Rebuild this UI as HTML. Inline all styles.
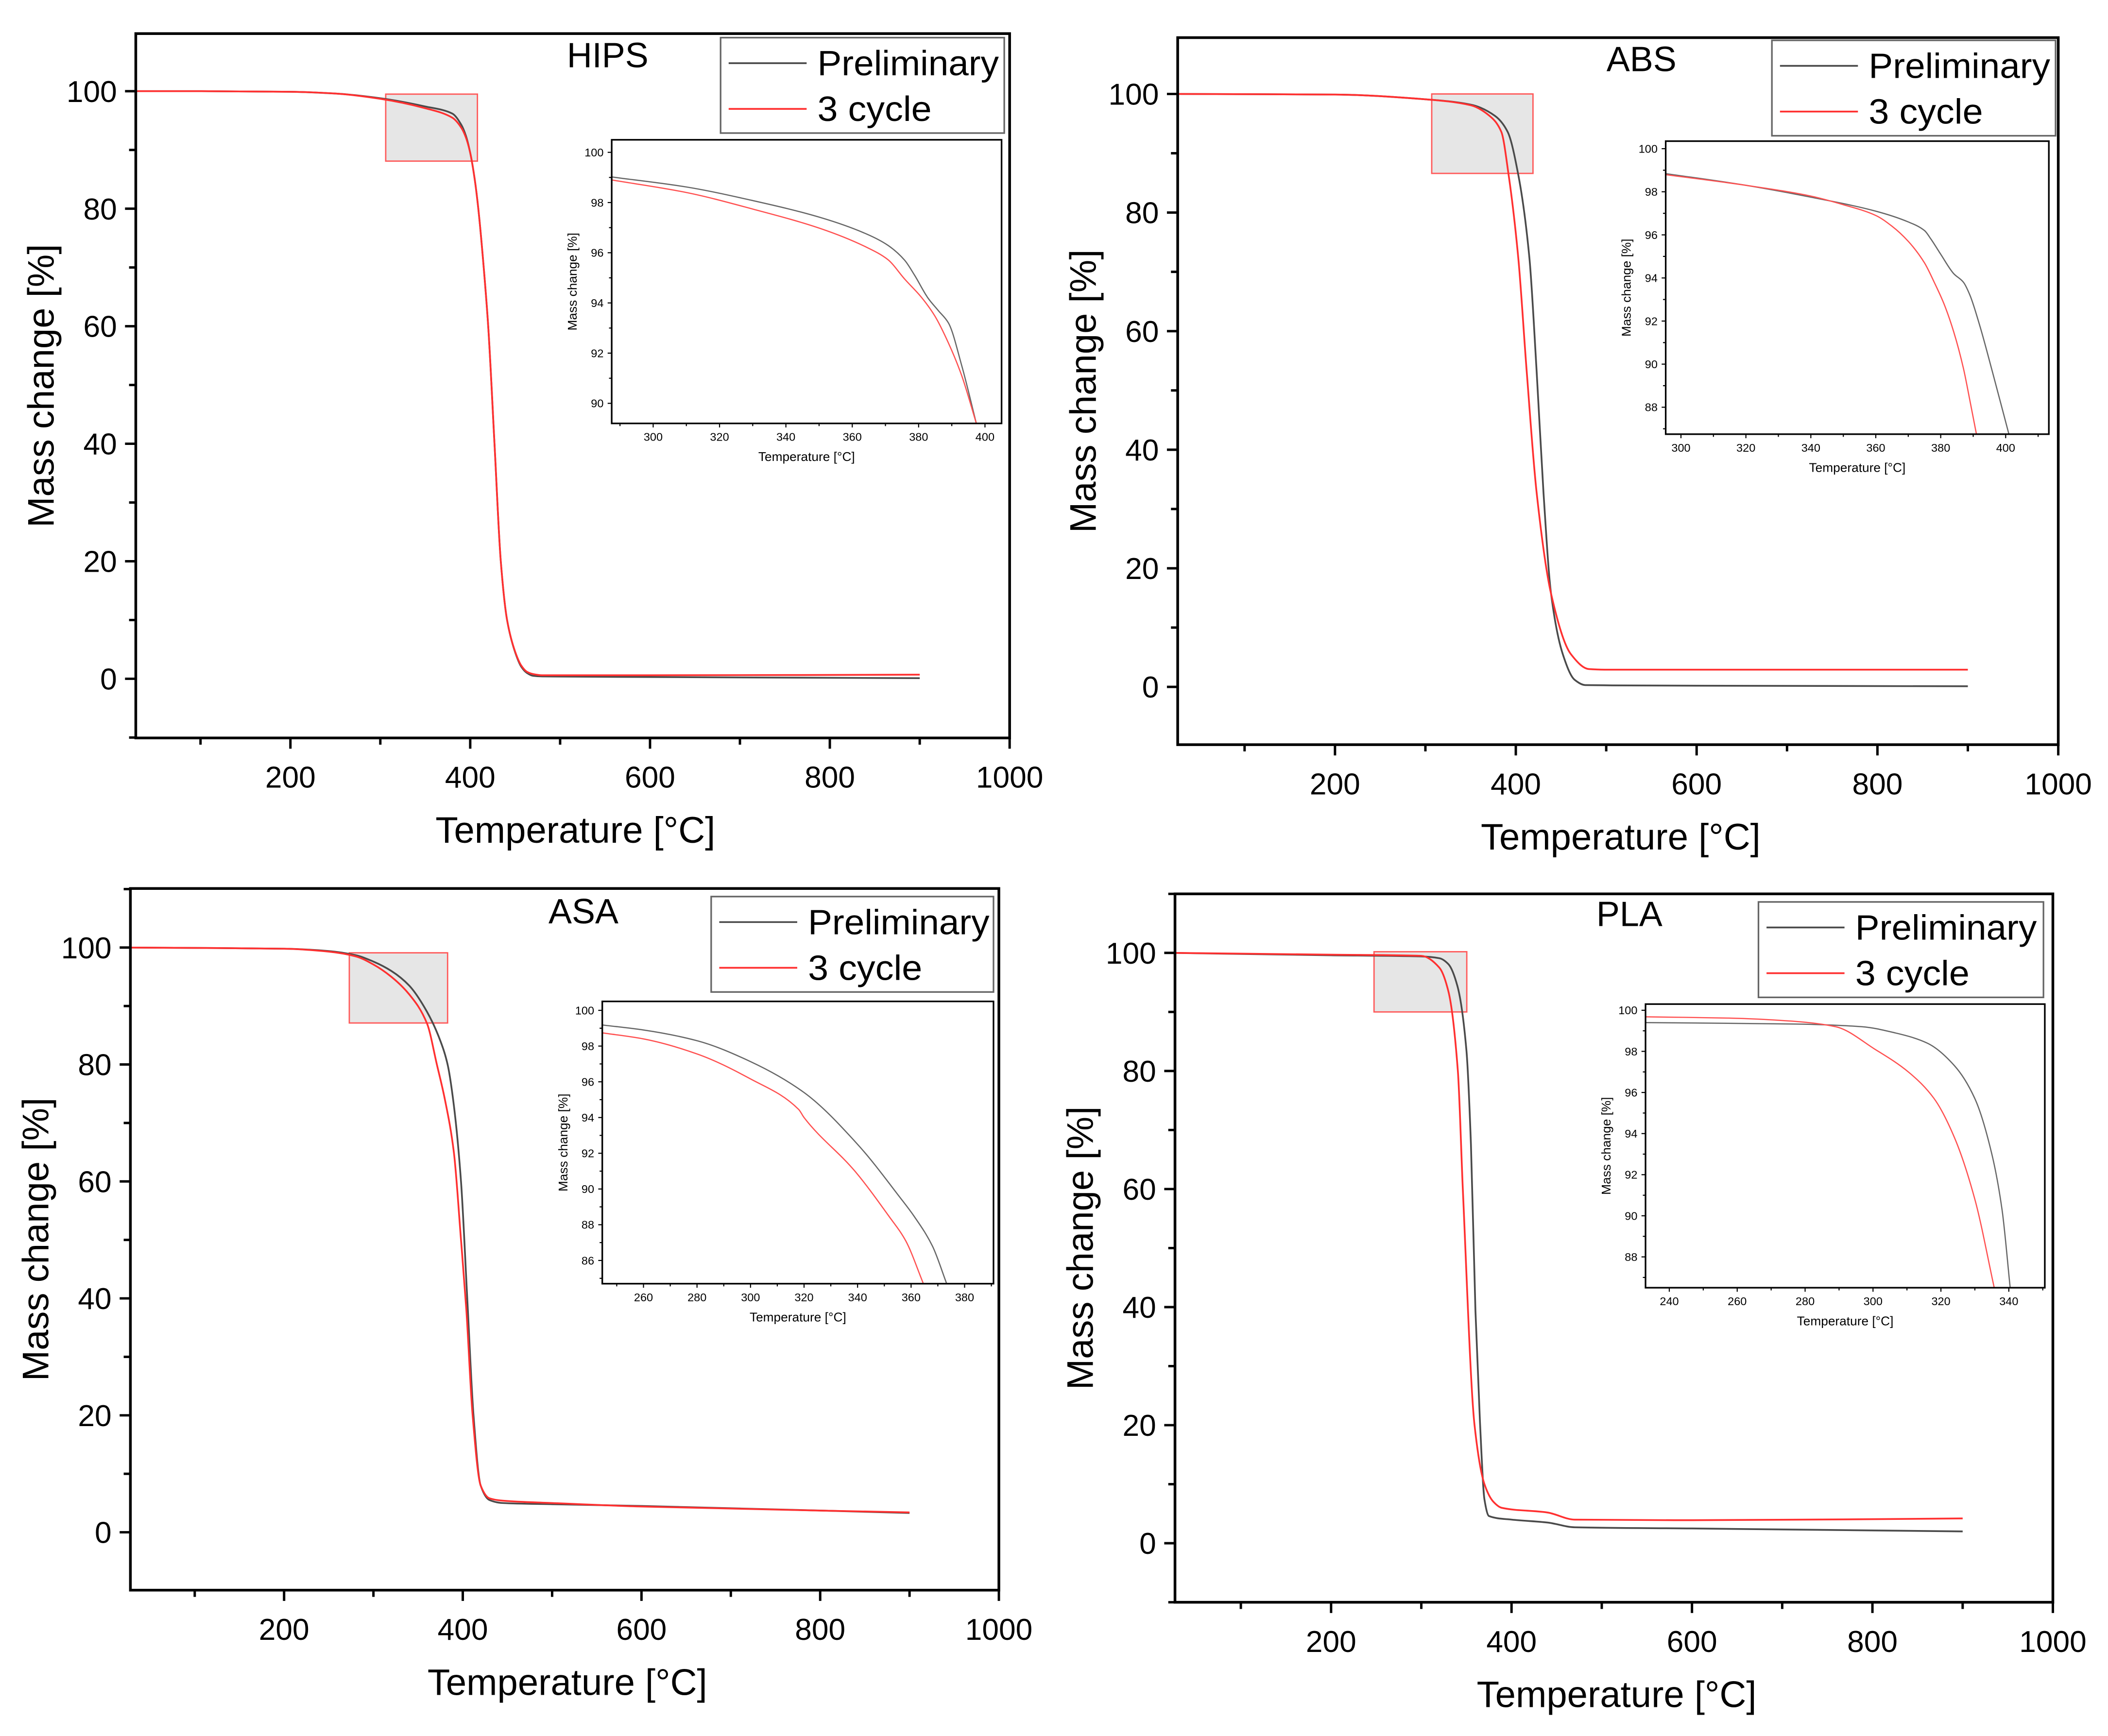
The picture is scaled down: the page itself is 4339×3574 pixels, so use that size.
<!DOCTYPE html>
<html><head><meta charset="utf-8"><style>
html,body{margin:0;padding:0;background:#fff;}
svg{display:block;font-family:"Liberation Sans",Arial,sans-serif;}
</style></head><body>
<svg id="fig" width="4339" height="3574" viewBox="0 0 1568 1291.5" preserveAspectRatio="none" xmlns="http://www.w3.org/2000/svg"></svg>
<script>
// ---------- DATA ----------
const mainTicksX = [200,400,600,800,1000];
const mainTicksY = [0,20,40,60,80,100];
const seriesNames = ["Preliminary","3 cycle"];

// HIPS
const hipsT1 = [28,100,200,250,300,350,380,390,395,400,405,409,415,420,427,434,441,450,457,463,470,480,600,900];
const hipsM1 = [100,100,99.9,99.6,98.8,97.4,96.2,94.3,92.5,89.5,85,80,70,60,40,20,10,4.5,2,1,0.5,0.4,0.3,0.1];
const hipsT2 = [28,100,200,250,300,350,380,390,395,400,405,409,415,420,427,434,441,450,457,463,470,480,600,900];
const hipsM2 = [100,100,99.9,99.6,98.7,97.1,95.5,93.8,92.2,89.5,85,80,70,60,40,20,10,4.6,2.2,1.2,0.8,0.6,0.6,0.7];
const hipsInT1 = [287.5,310,330.3,350.5,364.6,370.7,375.8,378.8,382.8,385.9,389,393,397.4];
const hipsInM1 = [99.02,98.62,98.07,97.4,96.73,96.3,95.7,95.1,94.2,93.7,93.2,91.5,89.2];
const hipsInT2 = [287.5,310,330.3,350.5,364.6,370.7,375.8,381,384.8,389,393,397.4];
const hipsInM2 = [98.9,98.4,97.73,96.96,96.2,95.73,94.95,94.2,93.5,92.4,91.1,89.2];
const hipsInTicksX = [300,320,340,360,380,400];
const hipsInTicksY = [90,92,94,96,98,100];

// ABS
const absT1 = [26,200,300,350,377,391,402.7,415,423,430.6,439,452,465,477,600,900];
const absM1 = [100,99.9,99.1,98.2,96.3,93.6,86.4,72.4,53.3,32.8,15.7,5.5,1.2,0.3,0.2,0.1];
const absT2 = [26,200,300,350,371,384,392,402.7,412,423,439,461,481,500,900];
const absM2 = [100,99.9,99.1,98.1,96.3,93.6,86.4,72.4,53.3,32.8,15.7,5.5,3.0,2.9,2.9];
const absInT1 = [295,320,340,360,370,375,377,380,384,387,389,392,396,401];
const absInM1 = [98.85,98.3,97.75,97.1,96.6,96.2,95.8,95.1,94.2,93.8,93.2,91.8,89.6,86.75];
const absInT2 = [295,320,340,350,360,365,370,375,378,381,384,387,389,391];
const absInM2 = [98.8,98.3,97.8,97.4,96.9,96.4,95.7,94.7,93.8,92.8,91.5,89.8,88.3,86.75];
const absInTicksX = [300,320,340,360,380,400];
const absInTicksY = [88,90,92,94,96,98,100];

// ASA
const asaT1 = [28,200,250,280,300,320,340,360,375,383,390,398,405,412,420,430,445,500,600,900];
const asaM1 = [100,99.8,99.4,98.7,97.6,96,93.5,89,84,80,73,60,40,20,8,5.5,5.0,4.8,4.5,3.3];
const asaT2 = [28,200,250,280,300,320,340,360,371,380,390,398,404,411,420,430,445,500,600,900];
const asaM2 = [100,99.8,99.3,98.5,97.1,95,92,87,80,74,65,50,38,20,8,5.8,5.4,5.0,4.4,3.4];
const asaInT1 = [244.6,260,280,300,320,340,356,361,368,373.3];
const asaInM1 = [99.18,98.9,98.3,97.13,95.4,92.5,89.5,88.5,86.8,84.7];
const asaInT2 = [244.6,260,280,300,318,320,339,351.6,358,364.6];
const asaInM2 = [98.74,98.4,97.56,96.16,94.45,94.0,91.0,88.5,87.1,84.7];
const asaInTicksX = [260,280,300,320,340,360,380];
const asaInTicksY = [86,88,90,92,94,96,98,100];

// PLA
const plaT1 = [27,200,300,320,330,340,350,355,360,365,370,375,400,440,470,600,900];
const plaM1 = [100,99.6,99.4,99.1,98.1,94.4,83.5,67.6,39.4,20.6,7.4,4.6,4.0,3.5,2.7,2.5,2.0];
const plaT2 = [27,200,300,320,330,340.5,346,359,370,380,389,440,470,600,900];
const plaM2 = [100,99.7,99.5,97.5,93.5,80,60,20,10,7,6,5.2,4.0,3.9,4.2];
const plaInT1 = [233,277,296.7,306.5,316,324,330,335,338,340.4];
const plaInM1 = [99.4,99.33,99.2,98.9,98.4,97.3,95.7,93,90.3,86.5];
const plaInT2 = [233,257.5,277,289,300.6,310.4,318,324,330,335.7];
const plaInM2 = [99.68,99.62,99.46,99.2,98.1,97,95.7,93.8,90.8,86.5];
const plaInTicksX = [240,260,280,300,320,340];
const plaInTicksY = [88,90,92,94,96,98,100];

// ---------- LAYOUT ----------
const panels = [
 {id:"hips",title:"HIPS",box:[101,25,751,549],xr:[28,1000],yr:[-10.07,109.8],
  t1:hipsT1,m1:hipsM1,t2:hipsT2,m2:hipsM2,
  hl:[306,408,99.5,88.1],
  leg:[536,28,747,99],titlePos:[452,50],ytitleX:30,
  inset:{box:[455,104,745,315],xr:[287.5,405],yr:[89.2,100.5],tx:hipsInTicksX,ty:hipsInTicksY,
   t1:hipsInT1,m1:hipsInM1,t2:hipsInT2,m2:hipsInM2}},
 {id:"abs",title:"ABS",box:[876,28,1531,554],xr:[26,1000],yr:[-9.75,109.5],
  t1:absT1,m1:absM1,t2:absT2,m2:absM2,
  hl:[307,419,100,86.6],
  leg:[1318,30,1529,101],titlePos:[1221,53],ytitleX:805,
  inset:{box:[1239,105,1524,323],xr:[295.3,413.3],yr:[86.75,100.35],tx:absInTicksX,ty:absInTicksY,
   t1:absInT1,m1:absInM1,t2:absInT2,m2:absInM2}},
 {id:"asa",title:"ASA",box:[97,661,743,1183],xr:[28,1000],yr:[-9.9,110.1],
  t1:asaT1,m1:asaM1,t2:asaT2,m2:asaM2,
  hl:[273,383,99.1,87.1],
  leg:[529,667,739,738],titlePos:[434,687],ytitleX:26,
  inset:{box:[448,745,739,955],xr:[244.6,390.8],yr:[84.7,100.5],tx:asaInTicksX,ty:asaInTicksY,
   t1:asaInT1,m1:asaInM1,t2:asaInT2,m2:asaInM2}},
 {id:"pla",title:"PLA",box:[874,665,1527,1192],xr:[27,1000],yr:[-10,110],
  t1:plaT1,m1:plaM1,t2:plaT2,m2:plaM2,
  hl:[247.6,350.4,100.2,90],
  leg:[1308,671,1520,742],titlePos:[1212,689],ytitleX:803,
  inset:{box:[1224,747,1521,958],xr:[233,350.6],yr:[86.5,100.3],tx:plaInTicksX,ty:plaInTicksY,
   t1:plaInT1,m1:plaInM1,t2:plaInT2,m2:plaInM2}}
];

const NS="http://www.w3.org/2000/svg";
const svg=document.getElementById('fig');
function mk(tag,attrs,parent,text){
  const e=document.createElementNS(NS,tag);
  for(const k in attrs) e.setAttribute(k,attrs[k]);
  if(text!==undefined) e.textContent=text;
  (parent||svg).appendChild(e); return e;
}
function scales(box,xr,yr){
  const sx=v=>box[0]+(v-xr[0])/(xr[1]-xr[0])*(box[2]-box[0]);
  const sy=v=>box[3]-(v-yr[0])/(yr[1]-yr[0])*(box[3]-box[1]);
  return [sx,sy];
}
// monotone cubic (Fritsch-Carlson) in screen space
function pathFrom(T,M,sx,sy){
  const X=T.map(sx), Y=M.map(sy), n=X.length;
  if(n<3) return X.map((x,i)=>(i?'L':'M')+x+','+Y[i]).join(' ');
  const d=[],m=new Array(n);
  for(let i=0;i<n-1;i++) d.push((Y[i+1]-Y[i])/(X[i+1]-X[i]));
  m[0]=d[0]; m[n-1]=d[n-2];
  for(let i=1;i<n-1;i++){
    if(d[i-1]*d[i]<=0) m[i]=0;
    else { const h0=X[i]-X[i-1],h1=X[i+1]-X[i];
      m[i]=3*(h0+h1)/((2*h1+h0)/d[i-1]+(h1+2*h0)/d[i]); }
  }
  let s='M'+X[0].toFixed(2)+','+Y[0].toFixed(2);
  for(let i=0;i<n-1;i++){
    const h=(X[i+1]-X[i])/3;
    s+=' C'+(X[i]+h).toFixed(2)+','+(Y[i]+m[i]*h).toFixed(2)+' '+(X[i+1]-h).toFixed(2)+','+(Y[i+1]-m[i+1]*h).toFixed(2)+' '+X[i+1].toFixed(2)+','+Y[i+1].toFixed(2);
  }
  return s;
}
const BLK="#4a4a4a", RED="#ff3030";

panels.forEach(p=>{
  const g=mk('g',{});
  
  
  const [x0,y0,x1,y1]=p.box;
  const [sx,sy]=scales(p.box,p.xr,p.yr);
  const clipId='clip-'+p.id;
  const cp=mk('clipPath',{id:clipId},g); mk('rect',{x:x0,y:y0,width:x1-x0,height:y1-y0},cp);

  const hl=mk('rect',{x:sx(p.hl[0]),y:sy(p.hl[2]),width:sx(p.hl[1])-sx(p.hl[0]),height:sy(p.hl[3])-sy(p.hl[2]),fill:"#e6e6e6",stroke:"#ff5a5a","stroke-width":1},g);
  
  

  const c1=mk('path',{d:pathFrom(p.t1,p.m1,sx,sy),fill:"none",stroke:BLK,"stroke-width":1.3,"clip-path":"url(#"+clipId+")","stroke-linejoin":"round"},g);
  
  
  const c2=mk('path',{d:pathFrom(p.t2,p.m2,sx,sy),fill:"none",stroke:RED,"stroke-width":1.3,"clip-path":"url(#"+clipId+")","stroke-linejoin":"round"},g);
  
  

  const fr=mk('rect',{x:x0,y:y0,width:x1-x0,height:y1-y0,fill:"none",stroke:"#000","stroke-width":2},g);
  
  

  for(let v=100;v<=1000;v+=100){
    if(v<p.xr[0]) continue;
    const major=v%200===0;
    mk('line',{x1:sx(v),x2:sx(v),y1:y1,y2:y1+(major?8:5),stroke:"#000","stroke-width":1.8},g);
  }
  mainTicksX.forEach(v=>{
    const t=mk('text',{x:sx(v),y:y1+37,"font-size":22.5,"text-anchor":"middle",fill:"#000"},g,String(v));
    
    
  });
  for(let v=-10;v<=110;v+=10){
    if(v<p.yr[0]-0.01||v>p.yr[1]) continue;
    const major=v%20===0;
    mk('line',{x1:x0,x2:x0-(major?8:5),y1:sy(v),y2:sy(v),stroke:"#000","stroke-width":1.8},g);
  }
  mainTicksY.forEach(v=>{
    const t=mk('text',{x:x0-14,y:sy(v)+8,"font-size":22.5,"text-anchor":"end",fill:"#000"},g,String(v));
    
    
  });
  const xt=mk('text',{x:(x0+x1)/2+2,y:y1+78,"font-size":27.5,"text-anchor":"middle",fill:"#000"},g,"Temperature [°C]");
  
  
  const yc=(y0+y1)/2;
  const yt=mk('text',{x:p.ytitleX,y:yc,"font-size":27.5,"text-anchor":"middle",fill:"#000",transform:"rotate(-90 "+p.ytitleX+" "+yc+")",dy:"10"},g,"Mass change [%]");
  
  

  const tt=mk('text',{x:p.titlePos[0],y:p.titlePos[1],"font-size":26,"text-anchor":"middle",fill:"#000"},g,p.title);
  
  

  const [lx0,ly0,lx1,ly1]=p.leg;
  const lg=mk('g',{},g);
  
  
  mk('rect',{x:lx0,y:ly0,width:lx1-lx0,height:ly1-ly0,fill:"#fff",stroke:"#666","stroke-width":1.2},lg);
  [[BLK,seriesNames[0],ly0+19,135],[RED,seriesNames[1],ly0+53,85]].forEach(([col,name,yy,tl])=>{
    const e=mk('g',{},lg);
    
    
    mk('line',{x1:lx0+6,x2:lx0+64,y1:yy,y2:yy,stroke:col,"stroke-width":1.3},e);
    mk('text',{x:lx0+72,y:yy+9,"font-size":26,fill:"#000",textLength:tl,lengthAdjust:"spacingAndGlyphs"},e,name);
  });

  const I=p.inset;
  const ig=mk('g',{},g);
  
  
  const [ix0,iy0,ix1,iy1]=I.box;
  const [isx,isy]=scales(I.box,I.xr,I.yr);
  const icid='iclip-'+p.id;
  const icp=mk('clipPath',{id:icid},ig); mk('rect',{x:ix0,y:iy0,width:ix1-ix0,height:iy1-iy0},icp);
  mk('rect',{x:ix0,y:iy0,width:ix1-ix0,height:iy1-iy0,fill:"#fff"},ig);
  const ic1=mk('path',{d:pathFrom(I.t1,I.m1,isx,isy),fill:"none",stroke:"#666","stroke-width":0.9,"clip-path":"url(#"+icid+")"},ig);
  
  
  const ic2=mk('path',{d:pathFrom(I.t2,I.m2,isx,isy),fill:"none",stroke:"#ff5050","stroke-width":0.9,"clip-path":"url(#"+icid+")"},ig);
  
  
  mk('rect',{x:ix0,y:iy0,width:ix1-ix0,height:iy1-iy0,fill:"none",stroke:"#000","stroke-width":1.2},ig);
  const dx=I.tx[1]-I.tx[0];
  for(let v=I.tx[0]-dx/2; v<=I.xr[1]; v+=dx/2){
    if(v<I.xr[0]) continue;
    const major=Math.abs(((v-I.tx[0])/dx)%1)<1e-6;
    mk('line',{x1:isx(v),x2:isx(v),y1:iy1,y2:iy1+(major?3:2),stroke:"#000","stroke-width":0.8},ig);
  }
  I.tx.forEach(v=>{ mk('text',{x:isx(v),y:iy1+13,"font-size":8.5,"text-anchor":"middle",fill:"#000"},ig,String(v)); });
  const dy=I.ty[1]-I.ty[0];
  for(let v=I.ty[0]-dy/2; v<=I.yr[1]; v+=dy/2){
    if(v<I.yr[0]) continue;
    const major=Math.abs(((v-I.ty[0])/dy)%1)<1e-6;
    mk('line',{x1:ix0,x2:ix0-(major?3:2),y1:isy(v),y2:isy(v),stroke:"#000","stroke-width":0.8},ig);
  }
  I.ty.forEach(v=>{ mk('text',{x:ix0-6,y:isy(v)+3,"font-size":8.5,"text-anchor":"end",fill:"#000"},ig,String(v)); });
  mk('text',{x:(ix0+ix1)/2,y:iy1+28,"font-size":9.5,"text-anchor":"middle",fill:"#000"},ig,"Temperature [°C]");
  const iyc=(iy0+iy1)/2, iyx=ix0-26;
  mk('text',{x:iyx,y:iyc,"font-size":9.5,"text-anchor":"middle",fill:"#000",transform:"rotate(-90 "+iyx+" "+iyc+")"},ig,"Mass change [%]");
});
</script>
</body></html>
